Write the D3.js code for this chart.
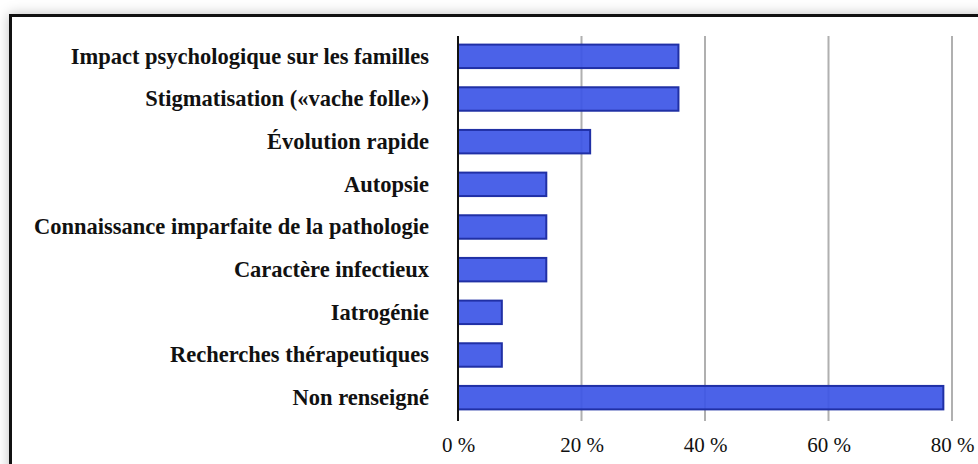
<!DOCTYPE html>
<html>
<head>
<meta charset="utf-8">
<script src="https://cdn.jsdelivr.net/npm/d3@7"></script>
<style>
  body { margin: 0; background: #fff; overflow: hidden; }
  #frame {
    position: absolute; left: 9px; top: 14px;
    width: 1000px; height: 500px;
    border: 3px solid #111;
    box-shadow: 0 0 12px rgba(0,0,0,0.25);
    background: #fff;
  }
  #chart { position: absolute; left: 0; top: 0; }
  #chart text { font-family: "Liberation Serif", serif; fill: #111; }
</style>
</head>
<body>
<div id="frame"></div>
<div id="chart"></div>
<script>
// Categories and values (share of cases, %)
let categories = [
    "Impact psychologique sur les familles",
    "Stigmatisation («vache folle»)",
    "Évolution rapide",
    "Autopsie",
    "Connaissance imparfaite de la pathologie",
    "Caractère infectieux",
    "Iatrogénie",
    "Recherches thérapeutiques",
    "Non renseigné"
];
let values = [35.7, 35.7, 21.4, 14.3, 14.3, 14.3, 7.1, 7.1, 78.6];
let ticks = [0, 20, 40, 60, 80];

let svgWidth = 978;
let svgHeight = 464;

let margin = { top: 35, right: 26, bottom: 45, left: 458 };
let chartWidth = svgWidth - margin.left - margin.right;
let chartHeight = svgHeight - margin.top - margin.bottom;

let svg = d3.select("#chart")
    .append("svg")
    .attr("width", svgWidth)
    .attr("height", svgHeight);

let chartGroup = svg.append("g")
    .attr("transform", `translate(${margin.left}, ${margin.top})`);

let data = categories.map((c, i) => ({ label: c, value: values[i] }));

// x = percentage
let xScale = d3.scaleLinear()
    .domain([0, 80])
    .range([0, 494]);

let yScale = d3.scaleBand()
    .domain(categories)
    .range([0, chartHeight])
    .paddingInner(0.45)
    .paddingOuter(0.225);

// gridlines
chartGroup.selectAll(".grid")
    .data(ticks.slice(1))
    .enter()
    .append("line")
    .attr("x1", d => xScale(d))
    .attr("x2", d => xScale(d))
    .attr("y1", 1)
    .attr("y2", chartHeight + 2)
    .attr("stroke", "#b0b0b0")
    .attr("stroke-width", 2);

// bars
chartGroup.selectAll("rect.bar")
    .data(data)
    .enter()
    .append("rect")
    .attr("class", "bar")
    .attr("x", xScale(0))
    .attr("y", d => yScale(d.label))
    .attr("width", d => xScale(d.value) - xScale(0))
    .attr("height", yScale.bandwidth())
    .attr("fill", "rgb(60, 85, 230)")
    .attr("fill-opacity", 0.92)
    .attr("stroke", "rgb(32, 48, 165)")
    .attr("stroke-width", 2);

// y axis line
chartGroup.append("line")
    .attr("x1", 0).attr("x2", 0)
    .attr("y1", 1).attr("y2", chartHeight + 2)
    .attr("stroke", "#111")
    .attr("stroke-width", 2);

// category labels
chartGroup.selectAll("text.cat")
    .data(data)
    .enter()
    .append("text")
    .attr("class", "cat")
    .attr("x", -29)
    .attr("y", d => yScale(d.label) + yScale.bandwidth() / 2)
    .attr("dy", "0.33em")
    .attr("text-anchor", "end")
    .attr("font-weight", "bold")
    .attr("font-size", "22.5px")
    .text(d => d.label);

// x axis tick labels
let xAxis = d3.axisBottom(xScale)
    .tickValues(ticks)
    .tickSize(0)
    .tickPadding(18)
    .tickFormat(d => d + " %");

let xg = chartGroup.append("g")
    .attr("transform", `translate(0, ${chartHeight})`)
    .call(xAxis);
xg.select(".domain").remove();
xg.selectAll("text")
    .attr("font-size", "21px");
</script>
</body>
</html>
